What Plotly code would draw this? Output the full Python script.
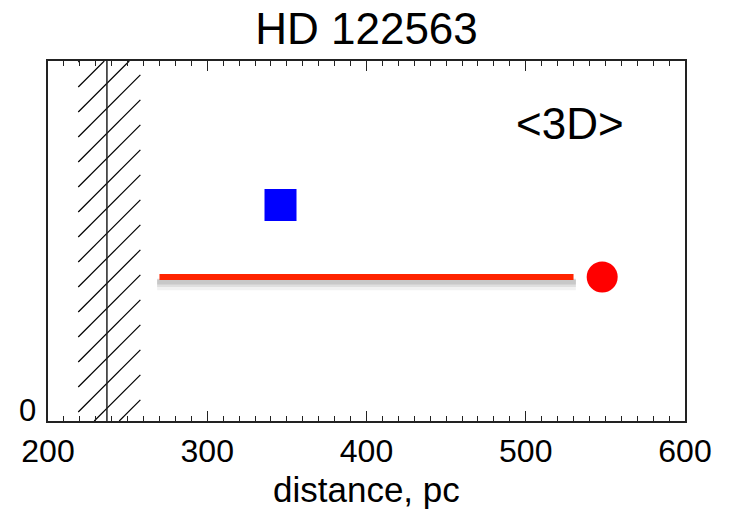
import plotly.graph_objects as go

# --- data ---------------------------------------------------------------
star_name = "HD 122563"
model_label = "<3D>"

# parallax distance band (hatched) and its central value, pc
band_lo, band_hi = 219.0, 258.0
band_center = 237.0

# 3D-model distance range (segment) and point estimate, pc
range_lo, range_hi = 270.0, 530.0
range_y = 0.4
point_3d = 548.0

# alternative estimate (square marker)
square_x = 346.0
square_y = 0.6

x_range = [200, 600]
y_range = [0, 1]
x_ticks = [200, 300, 400, 500, 600]
y_label = "0"

# --- layout geometry ----------------------------------------------------
W, H = 730, 513
ML, MR, MT, MB = 48, 45, 61, 92
PW, PH = W - ML - MR, H - MT - MB
FONT = "Liberation Sans, Arial, Helvetica, sans-serif"


def px_to_x(p):
    return x_range[0] + p / PW * (x_range[1] - x_range[0])


def x_to_px(x):
    return (x - x_range[0]) / (x_range[1] - x_range[0]) * PW


def py_to_y(p):
    return y_range[0] + p / PH * (y_range[1] - y_range[0])


# 45-degree hatch lines filling the parallax band (computed in pixel space)
spacing = 25.0
phase = 9.0
xl, xr = x_to_px(band_lo), x_to_px(band_hi)
bw = xr - xl
hx, hy = [], []
c = phase - spacing * int((bw + phase) / spacing + 1)
while c < PH:
    ylo, yhi = max(c, 0.0), min(c + bw, PH)
    if yhi > ylo:
        hx += [px_to_x(xl + ylo - c), px_to_x(xl + yhi - c), None]
        hy += [py_to_y(ylo), py_to_y(yhi), None]
    c += spacing

fig = go.Figure()

fig.add_trace(go.Scatter(x=hx, y=hy, mode="lines",
                         line=dict(color="black", width=1.2),
                         hoverinfo="skip", showlegend=False))
fig.add_trace(go.Scatter(x=[band_center, band_center], y=y_range, mode="lines",
                         line=dict(color="#222222", width=1.5),
                         hoverinfo="skip", showlegend=False))

# soft drop shadow under the range segment
for dy, wdt, alpha in [(0.020, 12, 0.05), (0.017, 8, 0.08), (0.014, 5, 0.10)]:
    fig.add_trace(go.Scatter(x=[range_lo - 1.5, range_hi + 1.5],
                             y=[range_y - dy, range_y - dy], mode="lines",
                             line=dict(color=f"rgba(0,0,0,{alpha})", width=wdt),
                             hoverinfo="skip", showlegend=False))

fig.add_trace(go.Scatter(x=[range_lo, range_hi], y=[range_y, range_y], mode="lines",
                         line=dict(color="#FF2400", width=6),
                         showlegend=False))
fig.add_trace(go.Scatter(x=[point_3d], y=[range_y], mode="markers",
                         marker=dict(symbol="circle", size=31, color="#FF0000",
                                     line=dict(width=0)),
                         showlegend=False))
fig.add_trace(go.Scatter(x=[square_x], y=[square_y], mode="markers",
                         marker=dict(symbol="square", size=32, color="#0000FF",
                                     line=dict(width=0)),
                         showlegend=False))

fig.add_annotation(x=0.82, y=0.826, xref="paper", yref="paper",
                   text=model_label, showarrow=False,
                   font=dict(family=FONT, size=44, color="black"),
                   xanchor="center", yanchor="middle")
fig.add_annotation(x=0.5, y=-0.19, xref="paper", yref="paper",
                   text="distance, pc", showarrow=False,
                   font=dict(family=FONT, size=35, color="black"),
                   xanchor="center", yanchor="middle")
# single y-axis label sitting on the bottom edge
fig.add_annotation(x=-0.015, y=0.03, xref="paper", yref="paper",
                   text=y_label, showarrow=False,
                   font=dict(family=FONT, size=31, color="black"),
                   xanchor="right", yanchor="middle")

fig.update_layout(
    width=W, height=H,
    margin=dict(l=ML, r=MR, t=MT, b=MB),
    paper_bgcolor="white", plot_bgcolor="white",
    title=dict(text=star_name, x=0.5, xref="paper", y=0.945, yanchor="middle",
               font=dict(family=FONT, size=44, color="black")),
    font=dict(family=FONT, color="black"),
)
fig.update_xaxes(range=x_range, tickvals=x_ticks, ticks="inside", ticklen=10,
                 tickwidth=1.2, tickcolor="#222222", ticklabelstandoff=1,
                 minor=dict(ticks="inside", ticklen=5, dtick=10, tick0=200,
                            tickwidth=1, tickcolor="#222222", showgrid=False),
                 showline=True, linecolor="#222222", linewidth=1.5, mirror="allticks",
                 showgrid=False, zeroline=False,
                 tickfont=dict(family=FONT, size=32, color="black"))
fig.update_yaxes(range=y_range, showticklabels=False, ticks="",
                 showline=True, linecolor="#222222", linewidth=1.5, mirror=True,
                 showgrid=False, zeroline=False)

fig.write_html("out.html")
